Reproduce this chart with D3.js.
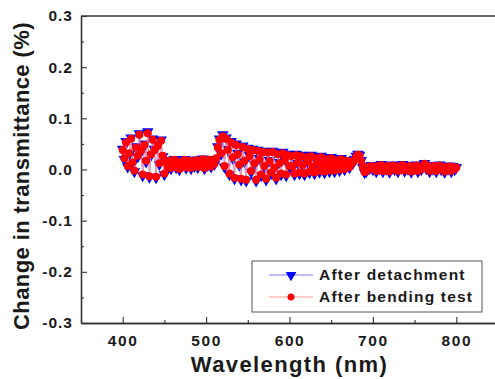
<!DOCTYPE html>
<html>
<head>
<meta charset="utf-8">
<script src="https://cdn.jsdelivr.net/npm/d3@7"></script>
<style>
  body { margin: 0; background: #fff; }
  text { font-family: "Liberation Sans", Arial, sans-serif; font-weight: bold; fill: #1a1a1a; }
</style>
</head>
<body>
<div id="chart"></div>
<script>
// wavelength grid (nm), 2 nm sampling
var wavelengths = d3.range(400, 801, 2);

var afterDetachment = [
  0.040,0.020,0.055,0.005,0.030,0.062,0.012,-0.004,0.045,0.025,0.070,0.035,-0.012,0.050,0.015,0.074,-0.015,0.028,0.060,0.040,-0.016,0.048,0.010,0.058,0.025,-0.010,
  0.015,0.005,0.018,0.002,0.012,0.020,0.004,0.014,0.000,0.016,0.008,0.020,0.003,0.012,0.018,0.002,0.014,0.006,0.019,0.004,0.015,0.010,0.021,0.002,0.016,0.008,0.020,0.005,0.014,0.010,
  0.020,0.045,0.060,0.030,0.068,0.005,0.062,0.040,-0.010,0.055,0.022,-0.018,0.050,0.032,0.008,-0.020,0.046,0.015,-0.022,0.042,0.028,-0.005,0.040,0.010,-0.022,0.038,0.022,-0.012,0.036,0.005,-0.020,0.035,0.018,-0.008,0.036,0.002,-0.018,0.032,0.014,-0.010,0.034,0.020,-0.012,0.030,0.005,
  0.028,0.005,-0.010,0.030,0.012,-0.008,0.028,0.008,-0.010,0.026,0.014,-0.006,0.028,0.004,-0.008,0.024,0.012,-0.005,0.026,0.006,-0.006,0.022,0.010,-0.004,0.024,0.008,-0.004,0.020,0.012,-0.002,0.022,0.006,0.000,0.018,0.010,0.004,0.016,0.012,0.020,0.026,
  0.030,0.028,0.018,0.004,-0.006,-0.004,0.006,0.002,0.008,0.000,0.006,-0.004,0.008,0.002,0.010,-0.004,0.006,0.001,0.008,-0.005,
  0.005,0.009,0.000,0.006,-0.004,0.008,0.003,0.010,-0.003,0.005,0.001,0.008,-0.005,0.006,0.002,0.009,-0.004,0.005,0.000,0.007,
  0.012,0.002,0.008,-0.004,0.006,0.001,0.008,-0.004,0.004,0.009,0.000,0.006,-0.005,0.005,0.001,0.007,-0.004,0.006,0.000,0.004
];

var afterBending = [
  0.038,0.022,0.053,0.007,0.032,0.060,0.014,-0.002,0.043,0.027,0.068,0.037,-0.010,0.048,0.017,0.071,-0.013,0.030,0.058,0.038,-0.014,0.046,0.012,0.056,0.027,-0.008,
  0.014,0.006,0.017,0.003,0.013,0.019,0.005,0.013,0.001,0.015,0.009,0.019,0.004,0.011,0.017,0.003,0.013,0.007,0.018,0.005,0.014,0.011,0.020,0.003,0.015,0.009,0.019,0.006,0.013,0.011,
  0.022,0.043,0.058,0.032,0.065,0.007,0.060,0.038,-0.008,0.053,0.024,-0.016,0.048,0.030,0.010,-0.018,0.044,0.017,-0.020,0.040,0.026,-0.003,0.038,0.012,-0.020,0.036,0.020,-0.010,0.034,0.007,-0.018,0.033,0.016,-0.006,0.034,0.004,-0.016,0.030,0.012,-0.008,0.032,0.018,-0.010,0.028,0.007,
  0.026,0.007,-0.008,0.028,0.013,-0.006,0.026,0.009,-0.008,0.024,0.015,-0.004,0.026,0.006,-0.006,0.022,0.013,-0.003,0.024,0.007,-0.004,0.020,0.011,-0.002,0.022,0.009,-0.002,0.018,0.013,0.000,0.020,0.007,0.001,0.017,0.011,0.005,0.015,0.013,0.019,0.025,
  0.029,0.027,0.017,0.005,-0.005,-0.003,0.005,0.003,0.007,0.001,0.005,-0.003,0.007,0.003,0.009,-0.003,0.005,0.002,0.007,-0.004,
  0.004,0.008,0.001,0.005,-0.003,0.007,0.004,0.009,-0.002,0.004,0.002,0.007,-0.004,0.005,0.003,0.008,-0.003,0.004,0.001,0.006,
  0.011,0.003,0.007,-0.003,0.005,0.002,0.007,-0.003,0.005,0.008,0.001,0.005,-0.004,0.004,0.002,0.006,-0.003,0.005,0.001,0.004
];

var xMajor = [400, 500, 600, 700, 800];
var xMinor = [350, 450, 550, 650, 750, 850];
var yMajor = [-0.3, -0.2, -0.1, 0.0, 0.1, 0.2, 0.3];
var yMinor = [-0.25, -0.15, -0.05, 0.05, 0.15, 0.25];

var seriesNames = ["After detachment", "After bending test"];

var W = 495, H = 379;
var margin = {top: 16, right: -3, bottom: 56, left: 81};
var width = W - margin.left - margin.right;
var height = H - margin.top - margin.bottom;

var svg = d3.select("#chart").append("svg")
  .attr("width", W)
  .attr("height", H);

var g = svg.append("g")
  .attr("transform", `translate(${margin.left},${margin.top})`);

var x = d3.scaleLinear().domain([350, 850]).range([0, width]);
var y = d3.scaleLinear().domain([-0.3, 0.3]).range([height, 0]);

var fmt = function(d) { var s = d.toFixed(1); return s === "-0.0" ? "0.0" : s; };

// axes, ticks pointing inward
var xAxis = g.append("g").attr("transform", `translate(0,${height})`)
  .call(d3.axisBottom(x).tickValues(xMajor).tickSizeInner(-6).tickSizeOuter(0).tickPadding(12).tickFormat(d3.format("d")));
var xAxisMinor = g.append("g").attr("transform", `translate(0,${height})`)
  .call(d3.axisBottom(x).tickValues(xMinor).tickSizeInner(-3).tickSizeOuter(0).tickFormat(""));
var yAxis = g.append("g")
  .call(d3.axisLeft(y).tickValues(yMajor).tickSizeInner(-6).tickSizeOuter(0).tickPadding(8).tickFormat(fmt));
var yAxisMinor = g.append("g")
  .call(d3.axisLeft(y).tickValues(yMinor).tickSizeInner(-3).tickSizeOuter(0).tickFormat(""));

[xAxis, xAxisMinor, yAxis, yAxisMinor].forEach(function(a) {
  a.selectAll("path.domain").attr("stroke", "#333").attr("stroke-width", 1.3);
  a.selectAll("line").attr("stroke", "#333").attr("stroke-width", 1.1);
  a.selectAll("text").style("font-size", "15.5px").attr("fill", "#1a1a1a");
});
xAxis.selectAll("text").style("letter-spacing", "1.6px");
yAxis.selectAll("text").style("letter-spacing", "1px");

// top frame line
g.append("line")
  .attr("x1", 0).attr("x2", width)
  .attr("y1", 0).attr("y2", 0)
  .attr("stroke", "#333").attr("stroke-width", 1.3);

var data1 = wavelengths.map(function(w, i) { return [w, afterDetachment[i]]; });
var data2 = wavelengths.map(function(w, i) { return [w, afterBending[i]]; });

var line = d3.line().x(function(d) { return x(d[0]); }).y(function(d) { return y(d[1]); });
var tri = d3.symbol().type(d3.symbolTriangle).size(58);

// after detachment (blue, down triangles)
g.append("path").datum(data1)
  .attr("d", line).attr("fill", "none")
  .attr("stroke", "#7a7aff").attr("stroke-width", 0.9);
g.selectAll(".tri").data(data1).enter().append("path")
  .attr("class", "tri")
  .attr("d", tri)
  .attr("transform", function(d) { return `translate(${x(d[0])},${y(d[1])}) rotate(180)`; })
  .attr("fill", "#0000ff");

// after bending test (red, circles)
g.append("path").datum(data2)
  .attr("d", line).attr("fill", "none")
  .attr("stroke", "#ff9a9a").attr("stroke-width", 0.9);
g.selectAll(".dot").data(data2).enter().append("circle")
  .attr("class", "dot")
  .attr("cx", function(d) { return x(d[0]); })
  .attr("cy", function(d) { return y(d[1]); })
  .attr("r", 4)
  .attr("fill", "#ff0000");

// axis titles
svg.append("text")
  .attr("x", margin.left + x(600))
  .attr("y", 372)
  .attr("text-anchor", "middle")
  .style("font-size", "22px")
  .style("letter-spacing", "1.4px")
  .text("Wavelength (nm)");

svg.append("text")
  .attr("transform", "translate(29,176) rotate(-90)")
  .attr("text-anchor", "middle")
  .style("font-size", "22px")
  .style("letter-spacing", "0.4px")
  .text("Change in transmittance (%)");

// legend
var lg = svg.append("g");
lg.append("rect")
  .attr("x", 252).attr("y", 261)
  .attr("width", 230).attr("height", 51)
  .attr("fill", "#fff").attr("stroke", "#555").attr("stroke-width", 1);

var rows = [275, 297];
lg.append("line").attr("x1", 269).attr("x2", 313).attr("y1", rows[0]).attr("y2", rows[0])
  .attr("stroke", "#7a7aff").attr("stroke-width", 1);
lg.append("path").attr("d", d3.symbol().type(d3.symbolTriangle).size(50))
  .attr("transform", `translate(291,${rows[0]}) rotate(180)`).attr("fill", "#0000ff");
lg.append("line").attr("x1", 269).attr("x2", 313).attr("y1", rows[1]).attr("y2", rows[1])
  .attr("stroke", "#ff9a9a").attr("stroke-width", 1);
lg.append("circle").attr("cx", 291).attr("cy", rows[1]).attr("r", 3.5).attr("fill", "#ff0000");

lg.selectAll(".lt").data(seriesNames).enter().append("text")
  .attr("class", "lt")
  .attr("x", 319)
  .attr("y", function(d, i) { return rows[i]; })
  .attr("dy", "0.35em")
  .style("font-size", "15.5px")
  .style("letter-spacing", "1.2px")
  .text(function(d) { return d; });
</script>
</body>
</html>
